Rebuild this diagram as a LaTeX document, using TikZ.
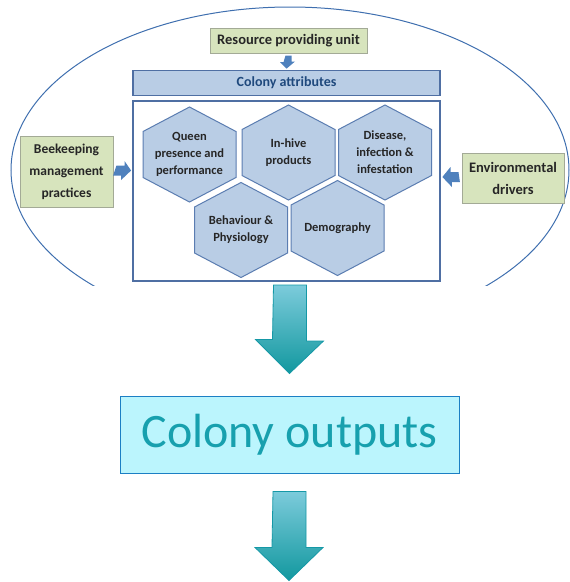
\documentclass[tikz,border=0pt]{standalone}
\usepackage{fontspec}
\setmainfont{Carlito}
\usetikzlibrary{calc}
\definecolor{greenfill}{HTML}{D7E4BD}
\definecolor{greenline}{HTML}{A3AA96}
\definecolor{bluefill}{HTML}{B9CDE5}
\definecolor{blueline}{HTML}{4F6FA3}
\definecolor{hexline}{HTML}{5B7DB1}
\definecolor{arrowblue}{HTML}{4F81BD}
\definecolor{attrtext}{HTML}{1F497D}
\definecolor{ellline}{HTML}{3F6FAF}
\definecolor{outfill}{HTML}{BBF5FD}
\definecolor{outline}{HTML}{1C7FC4}
\definecolor{outtext}{HTML}{17A0AE}
\definecolor{tealtop}{HTML}{7CCBDB}
\definecolor{tealbot}{HTML}{12989F}
\definecolor{tealline}{HTML}{1598A6}
\definecolor{darktext}{HTML}{262626}
\tikzset{
  greenbox/.style={draw=greenline, line width=1pt, fill=greenfill, inner sep=0pt,
    text=darktext, font=\fontsize{13.5}{22}\selectfont\bfseries, align=center},
  attrbox/.style={draw=blueline, line width=1.6pt, fill=bluefill, inner sep=0pt},
  mainbox/.style={draw=blueline, line width=1.8pt, fill=white, inner sep=0pt},
  hexs/.style={draw=hexline, line width=1pt, fill=bluefill},
  hext/.style={text=darktext, font=\fontsize{12.5}{17}\selectfont\bfseries, align=center, inner sep=0pt},
  smallarrow/.style={fill=arrowblue, draw=none},
  tealarrow/.style={draw=tealline, line width=0.8pt, top color=tealtop, bottom color=tealbot},
  ell/.style={draw=ellline, line width=1pt},
}
\newcommand\hexcell[4]{%
  \draw[hexs, shift={(#2,#3)}] (-46.5,-23) -- (0,-47.5) -- (46.5,-23) -- (46.5,23) -- (0,47.5) -- (-46.5,23) -- cycle;
  \node[hext] (#1) at (#2,#3) {#4};}
\begin{document}
\begin{tikzpicture}[x=1pt,y=-1pt]
\useasboundingbox (0,0) rectangle (570,582);
% ellipse
\begin{scope}
  \clip (0,0) rectangle (570,285);
  \draw[ell] (290,170) ellipse [x radius=279, y radius=163];
\end{scope}
% resource providing unit
\node[greenbox, minimum width=157pt, minimum height=25pt, font=\fontsize{14.5}{17}\selectfont\bfseries] (res) at (288.5,40.5) {Resource providing unit};
% colony attributes
\node[attrbox, minimum width=307pt, minimum height=25pt, text=attrtext, font=\fontsize{14}{16}\selectfont\bfseries] (attr) at (286.5,83) {Colony attributes};
% main box
\node[mainbox, minimum width=307pt, minimum height=180pt] (main) at (286.5,191) {};
% hexagons
\hexcell{queen}{189.5}{154.5}{Queen\\presence and\\performance}
\hexcell{hive}{288.5}{152.5}{In-hive\\products}
\hexcell{dis}{385}{152.5}{Disease,\\infection \&\\infestation}
\hexcell{beh}{241}{230}{Behaviour \&\\Physiology}
\hexcell{demo}{337.5}{228}{Demography}
% side boxes
\node[greenbox, minimum width=93pt, minimum height=71pt] (bee) at (66.5,171.5) {Beekeeping\\management\\practices};
\node[greenbox, minimum width=102pt, minimum height=50pt, font=\fontsize{14.5}{22}\selectfont\bfseries] (env) at (513,178) {Environmental\\drivers};
% small arrows
\coordinate (d1) at (res.south);
\path[smallarrow] ($(d1)+(-3,2)$) -- ++(6,0) -- ++(0,6) -- ++(3.5,0) -- ($(attr.north)+(0,-1)$) -- ++(-6.5,-6.5) -- ++(3.5,0) -- cycle;
\coordinate (r1) at ($(bee.east)+(3,-1)$);
\coordinate (r2) at (main.west |- r1);
\path[smallarrow] ($(r1)+(0,-5)$) -- ++(8,0) -- ++(0,-4.5) -- ($(r2)+(-1,0)$) -- ++(-10,9.5) -- ++(0,-4.5) -- ++(-8,0) -- cycle;
\coordinate (l1) at ($(env.west)+(-3,-1)$);
\coordinate (l2) at (main.east |- l1);
\path[smallarrow] ($(l1)+(0,-5)$) -- ++(-8,0) -- ++(0,-5) -- ($(l2)+(1.5,0)$) -- ++(9.5,10) -- ++(0,-5) -- ++(8,0) -- cycle;
% colony outputs
\node[draw=outline, line width=1pt, fill=outfill, minimum width=339pt, minimum height=77pt, inner sep=0pt,
  text=outtext, font=\fontsize{48}{54}\selectfont] (out) at (289.5,434.5) {Colony outputs};
% teal arrows
\coordinate (t1) at (290,285);
\draw[tealarrow] (t1) ++(-16.5,0) -- ++(33,0) -- ++(0,56) -- ++(17,0) -- ($(out.north)+(0,-22)$) -- ++(-34,-34) -- ++(17,0) -- cycle;
\coordinate (t2) at ($(out.south)+(0,18)$);
\draw[tealarrow] (t2) ++(-16.5,0) -- ++(33,0) -- ++(0,56) -- ++(17,0) -- ++(-34,33) -- ++(-34,-33) -- ++(17,0) -- cycle;
\end{tikzpicture}
\end{document}
